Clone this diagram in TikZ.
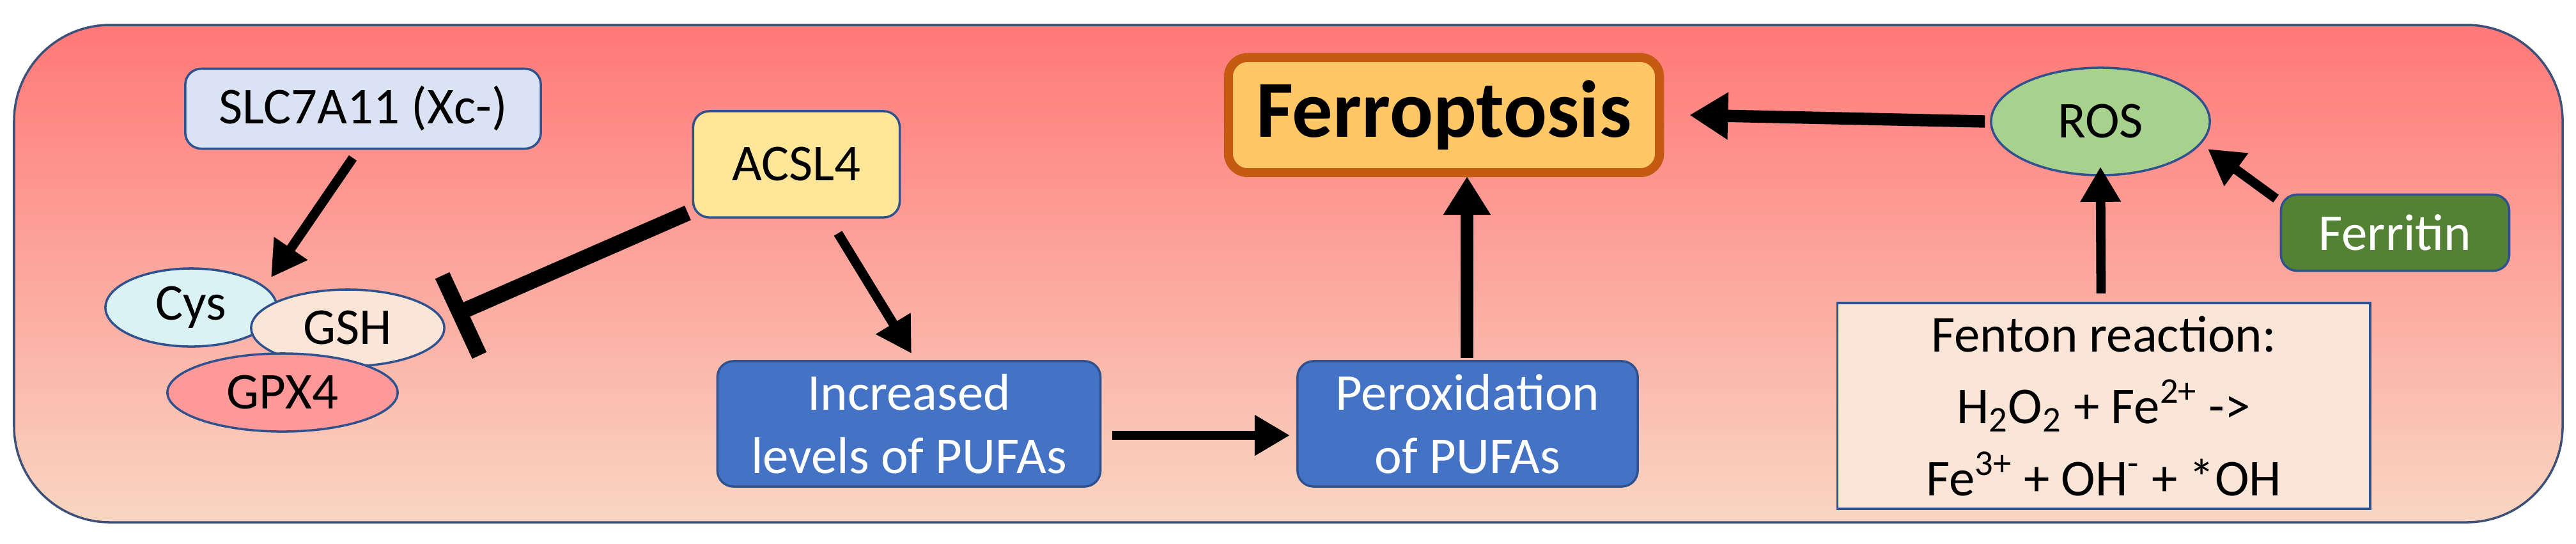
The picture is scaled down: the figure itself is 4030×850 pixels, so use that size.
\documentclass[tikz,border=0pt]{standalone}
\usepackage{fontspec}
\setmainfont{Carlito}
\usetikzlibrary{shapes.geometric,arrows.meta}
\begin{document}
\begin{tikzpicture}[x=0.01cm,y=-0.01cm,
  txt/.style={font=\fontsize{23}{28}\selectfont,align=center,inner sep=0pt},
  box/.style={txt,draw=#1,line width=1pt,rounded corners=0.25cm},
  ell/.style={txt,ellipse,draw=#1,line width=1pt},
  arr/.style={line width=4.2pt,-{Triangle[length=0.55cm,width=0.6cm]}},
  barr/.style={line width=5.5pt,-{Triangle[length=0.6cm,width=0.7cm]}}]
\useasboundingbox (0,0) rectangle (4030,850);
\definecolor{bord}{RGB}{47,82,143}
\definecolor{outer}{RGB}{60,80,120}
\fill[draw=outer,line width=1pt,rounded corners=1.5cm,top color={rgb,255:red,255;green,120;blue,120},bottom color={rgb,255:red,249;green,214;blue,194}] (22,39) rectangle (4009,817);
\node[box=bord,fill={rgb,255:red,218;green,227;blue,243},minimum width=5.56cm,minimum height=1.25cm] (slc) at (568,170) {SLC7A11 (Xc-)};
\node[box=bord,fill={rgb,255:red,255;green,230;blue,153},minimum width=3.23cm,minimum height=1.66cm] (acsl) at (1246,257) {ACSL4};
\node[ell=bord,fill={rgb,255:red,218;green,242;blue,243},minimum width=2.68cm,minimum height=1.22cm] (cys) at (299,481) {Cys};
\node[ell=bord,fill={rgb,255:red,251;green,229;blue,214},minimum width=3.02cm,minimum height=1.2cm] (gsh) at (544,513) {GSH};
\node[ell=bord,fill={rgb,255:red,255;green,153;blue,153},minimum width=3.6cm,minimum height=1.22cm] (gpx) at (442,614) {GPX4};
\node[box=bord,fill={rgb,255:red,68;green,114;blue,196},text=white,minimum width=5.99cm,minimum height=1.96cm] (inc) at (1422,663) {Increased\\levels of PUFAs};
\node[box=bord,fill={rgb,255:red,68;green,114;blue,196},text=white,minimum width=5.32cm,minimum height=1.96cm] (per) at (2296,663) {Peroxidation\\of PUFAs};
\node[txt,draw={rgb,255:red,197;green,90;blue,17},line width=4pt,rounded corners=0.3cm,fill={rgb,255:red,255;green,199;blue,102},minimum width=6.74cm,minimum height=1.8cm,font=\fontsize{36}{42}\selectfont\bfseries] (fer) at (2259,180) {Ferroptosis};
\node[ell=bord,fill={rgb,255:red,169;green,209;blue,142},minimum width=3.42cm,minimum height=1.68cm] (ros) at (3286,190) {ROS};
\node[box=bord,fill={rgb,255:red,84;green,130;blue,53},text=white,minimum width=3.57cm,minimum height=1.19cm] (frt) at (3747,364) {Ferritin};
\node[txt,draw=bord,line width=1pt,fill={rgb,255:red,251;green,229;blue,214},minimum width=8.33cm,minimum height=3.22cm] (fen) at (3291,635) {Fenton reaction:\\[4pt]H\textsubscript{2}O\textsubscript{2} + Fe\textsuperscript{2+} ->\\[4pt]Fe\textsuperscript{3+} + OH\textsuperscript{-} + *OH};
\coordinate (slcA) at (552,247); \coordinate (slcB) at (424,434);
\draw[arr] (slcA) -- (slcB);
\coordinate (inhA) at (1076,333); \coordinate (inhB) at (721,488);
\coordinate (barA) at (692,431); \coordinate (barB) at (750,556);
\draw[line width=7pt] (inhA) -- (inhB);
\draw[line width=7pt] (barA) -- (barB);
\coordinate (acA) at (1311,365); \coordinate (acB) at (1426,553);
\draw[arr] (acA) -- (acB);
\coordinate (pA) at (1740,681); \coordinate (pB) at (2018,681);
\draw[arr] (pA) -- (pB);
\coordinate (fA) at (2295,560); \coordinate (fB) at (2295,276);
\draw[barr] (fA) -- (fB);
\draw[barr] (ros.west) ++(-8,0) -- ([xshift=0.4cm]fer.east);
\draw[arr] (frt.north west) ++(-6,8) -- (3454,233);
\draw[arr] (fen.north) ++(-4,-13) -- ([yshift=0.15cm]ros.south);
\end{tikzpicture}
\end{document}
